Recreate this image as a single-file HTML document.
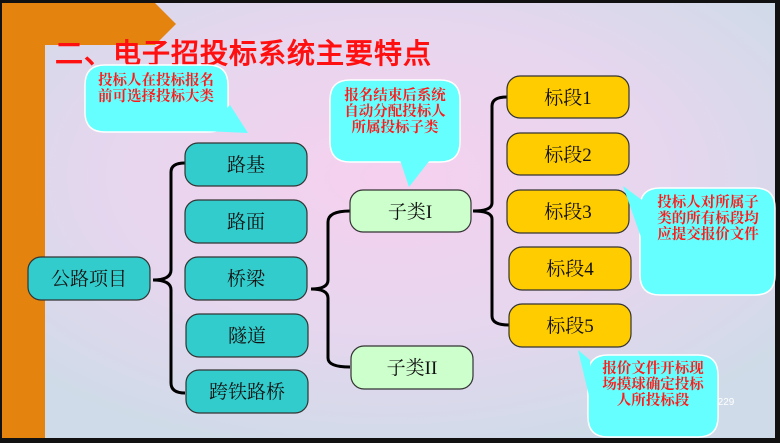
<!DOCTYPE html>
<html><head><meta charset="utf-8"><style>
html,body{margin:0;padding:0;width:780px;height:443px;overflow:hidden;background:#000}
svg{display:block}
text{font-family:"Liberation Serif","Noto Serif CJK SC",serif}
.r{font-family:"Liberation Sans","WenQuanYi Zen Hei",sans-serif;font-weight:bold;fill:#ff1a1a;font-size:14.5px}
</style></head><body>
<svg width="780" height="443" viewBox="0 0 780 443" xmlns="http://www.w3.org/2000/svg">
<defs>
<radialGradient id="bg" cx="0.5" cy="0.4" r="0.65">
<stop offset="0" stop-color="#f6d0ef"/><stop offset="0.55" stop-color="#e6d6ee"/><stop offset="1" stop-color="#cfdbe8"/>
</radialGradient>
</defs>
<rect x="0" y="0" width="780" height="443" fill="#111"/>
<rect x="2" y="3" width="773" height="435" fill="url(#bg)"/>
<rect x="2" y="3" width="43" height="435" fill="#e5830f"/>
<polygon points="2,3 155,3 176,24 155,45 2,45" fill="#e5830f"/>
<text x="55" y="63" style="font-family:'Liberation Sans','WenQuanYi Zen Hei',sans-serif;font-weight:bold" font-size="28" letter-spacing="1" fill="#ff1010">二、电子招投标系统主要特点</text>

<g fill="none" stroke="#000" stroke-width="3">
<path d="M185,163 Q171,163 171,172 L171,270 Q171,280 153,280 Q171,280 171,290 L171,383 Q171,393 185,393"/>
<path d="M350,211 Q328,211 328,222 L328,280 Q328,289 311,289 Q328,289 328,298 L328,358 Q328,367 350,367"/>
<path d="M507,97 Q492,97 492,106 L492,203 Q492,211 473,211 Q492,211 492,219 L492,316 Q492,325 509,325"/>
</g>

<g stroke="#333" stroke-width="1.2">
<rect x="28" y="257" width="122" height="43" rx="13" fill="#33cccc"/>
<rect x="185" y="143" width="122" height="43" rx="13" fill="#33cccc"/>
<rect x="185" y="200" width="122" height="43" rx="13" fill="#33cccc"/>
<rect x="185" y="257" width="122" height="43" rx="13" fill="#33cccc"/>
<rect x="186" y="314" width="122" height="43" rx="13" fill="#33cccc"/>
<rect x="186" y="370" width="122" height="43" rx="13" fill="#33cccc"/>
<rect x="350" y="190" width="121" height="42" rx="13" fill="#ccffcc"/>
<rect x="351" y="346" width="122" height="43" rx="13" fill="#ccffcc"/>
<rect x="507" y="76" width="122" height="42" rx="13" fill="#ffcc00"/>
<rect x="507" y="133" width="122" height="42" rx="13" fill="#ffcc00"/>
<rect x="507" y="190" width="122" height="43" rx="13" fill="#ffcc00"/>
<rect x="509" y="247" width="122" height="43" rx="13" fill="#ffcc00"/>
<rect x="509" y="304" width="122" height="43" rx="13" fill="#ffcc00"/>
</g>
<g font-size="19" fill="#111" text-anchor="middle">
<text x="89" y="285">公路项目</text>
<text x="246" y="171">路基</text>
<text x="246" y="228">路面</text>
<text x="246" y="285">桥梁</text>
<text x="247" y="342">隧道</text>
<text x="247" y="398">跨铁路桥</text>
<text x="410" y="218">子类I</text>
<text x="412" y="374">子类II</text>
<text x="568" y="104">标段1</text>
<text x="568" y="161">标段2</text>
<text x="568" y="218">标段3</text>
<text x="570" y="275">标段4</text>
<text x="570" y="332">标段5</text>
</g>

<g fill="#66ffff" stroke="#fff" stroke-width="1.5">
<path d="M105,65 H208 Q228,65 228,85 V112 Q228,132 208,132 H105 Q85,132 85,112 V85 Q85,65 105,65 Z"/>
<polygon points="205,131 230,105 248,133" stroke="none"/>
<path d="M350,80 H440 Q460,80 460,100 V142 Q460,162 440,162 H350 Q330,162 330,142 V100 Q330,80 350,80 Z"/>
<polygon points="400,160 430,160 409,187" stroke="none"/>
<path d="M660,188 H755 Q775,188 775,208 V275 Q775,295 755,295 H660 Q640,295 640,275 V208 Q640,188 660,188 Z"/>
<polygon points="642,200 642,240 623,186" stroke="none"/>
<path d="M608,355 H698 Q718,355 718,375 V417 Q718,437 698,437 H608 Q588,437 588,417 V375 Q588,355 608,355 Z"/>
<polygon points="590,360 590,400 578,350" stroke="none"/>
</g>
<g class="r" text-anchor="middle">
<text x="156" y="85">投标人在投标报名</text>
<text x="156" y="101">前可选择投标大类</text>
<text x="395" y="100">报名结束后系统</text>
<text x="395" y="116">自动分配投标人</text>
<text x="395" y="132">所属投标子类</text>
<text x="708" y="207">投标人对所属子</text>
<text x="708" y="223">类的所有标段均</text>
<text x="708" y="239">应提交报价文件</text>
<text x="653" y="373">报价文件开标现</text>
<text x="653" y="389">场摸球确定投标</text>
<text x="653" y="405">人所投标段</text>
</g>
<text x="726" y="405" font-size="10" fill="#fff" style="font-family:'Liberation Sans',sans-serif" text-anchor="middle">229</text>
</svg>
</body></html>
